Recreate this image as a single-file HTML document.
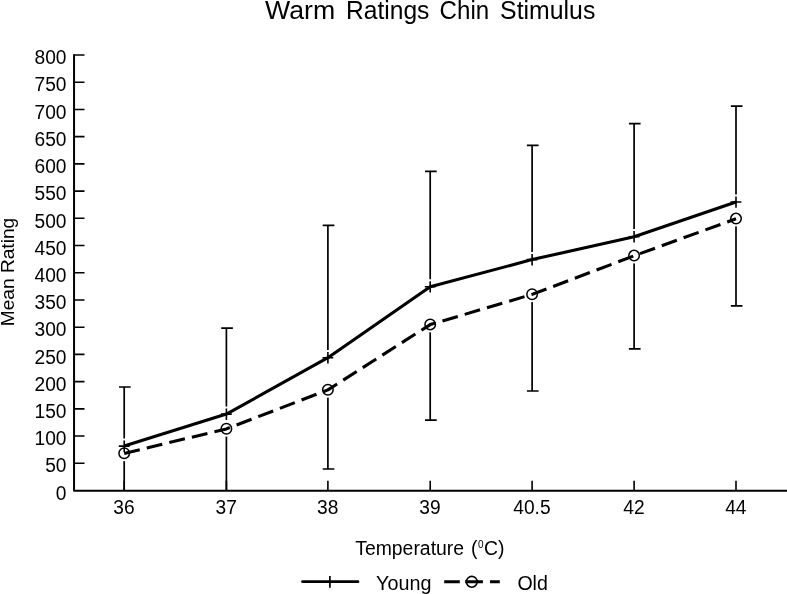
<!DOCTYPE html>
<html><head><meta charset="utf-8"><title>Warm Ratings Chin Stimulus</title>
<style>html,body{margin:0;padding:0;background:#fff;}svg{display:block;will-change:transform;}text{font-family:"Liberation Sans",sans-serif;fill:#000;}</style></head><body>
<svg width="787" height="594" viewBox="0 0 787 594">
<rect x="0" y="0" width="787" height="594" fill="#fff"/>
<text transform="translate(265.0 18.7) scale(1.0187 1)" font-size="26.2">Warm</text>
<text transform="translate(346.0 18.7) scale(0.9389 1)" font-size="26.2">Ratings</text>
<text transform="translate(439.6 18.7) scale(0.9202 1)" font-size="26.2">Chin</text>
<text transform="translate(500.1 18.7) scale(0.9483 1)" font-size="26.2">Stimulus</text>
<g stroke="#000" fill="none">
<path d="M74.05 54.2V490.7H787" stroke-width="2" stroke-linejoin="round"/>
<path d="M74.0 463.28H84.5M74.0 436.06H84.5M74.0 408.84H84.5M74.0 381.62H84.5M74.0 354.41H84.5M74.0 327.19H84.5M74.0 299.97H84.5M74.0 272.75H84.5M74.0 245.53H84.5M74.0 218.31H84.5M74.0 191.09H84.5M74.0 163.87H84.5M74.0 136.66H84.5M74.0 109.44H84.5M74.0 82.22H84.5M74.0 55.00H84.5M124.2 490.5V480.8M226.4 490.5V480.8M327.9 490.5V480.8M430.2 490.5V480.8M532.1 490.5V480.8M634.1 490.5V480.8M736.0 490.5V480.8" stroke-width="1.6"/>
</g>
<text transform="translate(66.5 499.7) scale(0.94 1)" font-size="20.4" text-anchor="end">0</text>
<text transform="translate(66.5 472.48) scale(0.94 1)" font-size="20.4" text-anchor="end">50</text>
<text transform="translate(66.5 445.26) scale(0.94 1)" font-size="20.4" text-anchor="end">100</text>
<text transform="translate(66.5 418.04) scale(0.94 1)" font-size="20.4" text-anchor="end">150</text>
<text transform="translate(66.5 390.82) scale(0.94 1)" font-size="20.4" text-anchor="end">200</text>
<text transform="translate(66.5 363.61) scale(0.94 1)" font-size="20.4" text-anchor="end">250</text>
<text transform="translate(66.5 336.39) scale(0.94 1)" font-size="20.4" text-anchor="end">300</text>
<text transform="translate(66.5 309.17) scale(0.94 1)" font-size="20.4" text-anchor="end">350</text>
<text transform="translate(66.5 281.95) scale(0.94 1)" font-size="20.4" text-anchor="end">400</text>
<text transform="translate(66.5 254.73) scale(0.94 1)" font-size="20.4" text-anchor="end">450</text>
<text transform="translate(66.5 227.51) scale(0.94 1)" font-size="20.4" text-anchor="end">500</text>
<text transform="translate(66.5 200.29) scale(0.94 1)" font-size="20.4" text-anchor="end">550</text>
<text transform="translate(66.5 173.07) scale(0.94 1)" font-size="20.4" text-anchor="end">600</text>
<text transform="translate(66.5 145.86) scale(0.94 1)" font-size="20.4" text-anchor="end">650</text>
<text transform="translate(66.5 118.64) scale(0.94 1)" font-size="20.4" text-anchor="end">700</text>
<text transform="translate(66.5 91.42) scale(0.94 1)" font-size="20.4" text-anchor="end">750</text>
<text transform="translate(66.5 64.2) scale(0.94 1)" font-size="20.4" text-anchor="end">800</text>
<text transform="translate(124.0 514.0) scale(0.94 1)" font-size="20.4" text-anchor="middle">36</text>
<text transform="translate(226.2 514.0) scale(0.94 1)" font-size="20.4" text-anchor="middle">37</text>
<text transform="translate(327.7 514.0) scale(0.94 1)" font-size="20.4" text-anchor="middle">38</text>
<text transform="translate(430.0 514.0) scale(0.94 1)" font-size="20.4" text-anchor="middle">39</text>
<text transform="translate(531.9 514.0) scale(0.94 1)" font-size="20.4" text-anchor="middle">40.5</text>
<text transform="translate(633.9 514.0) scale(0.94 1)" font-size="20.4" text-anchor="middle">42</text>
<text transform="translate(735.8 514.0) scale(0.94 1)" font-size="20.4" text-anchor="middle">44</text>
<text transform="translate(355.2 555.0) scale(1.0 1)" font-size="19.4">Temperature</text>
<text transform="translate(471.0 555.0) scale(1.0 1)" font-size="19.4">(<tspan font-size="10" dy="-6.6" dx="0.6">0</tspan><tspan dy="6.6" dx="0.4">C)</tspan></text>
<text transform="translate(13.6 326.2) rotate(-90) scale(1.05 1)" font-size="18.2">Mean Rating</text>
<path d="M119.0 387.0H130.7M124.2 387.0V446.1M124.2 453.2V490.5M221.20000000000002 328.2H232.9M226.4 328.2V414.1M226.4 428.7V490.5M322.7 225.4H334.4M327.9 225.4V357.7M327.9 389.7V469.0M322.7 469.0H334.4M425.0 171.3H436.7M430.2 171.3V286.8M430.2 324.4V420.1M425.0 420.1H436.7M526.9 145.4H538.6M532.1 145.4V259.6M532.1 294.2V391.0M526.9 391.0H538.6M628.9 123.7H640.6M634.1 123.7V236.7M634.1 255.6V348.8M628.9 348.8H640.6M730.8 106.2H742.5M736.0 106.2V202.0M736.0 218.6V305.8M730.8 305.8H742.5" stroke="#000" stroke-width="1.7" fill="none"/>
<path d="M124.2 438.5V453.70000000000005M226.4 406.5V421.70000000000005M327.9 350.09999999999997V365.3M430.2 279.2V294.40000000000003M532.1 252.00000000000003V267.20000000000005M634.1 229.1V244.29999999999998M736.0 194.4V209.6" stroke="#fff" stroke-width="3" fill="none"/>
<circle cx="124.2" cy="453.2" r="6.4" fill="#fff" stroke="#fff" stroke-width="3.2"/>
<circle cx="226.4" cy="428.7" r="6.4" fill="#fff" stroke="#fff" stroke-width="3.2"/>
<circle cx="327.9" cy="389.7" r="6.4" fill="#fff" stroke="#fff" stroke-width="3.2"/>
<circle cx="430.2" cy="324.4" r="6.4" fill="#fff" stroke="#fff" stroke-width="3.2"/>
<circle cx="532.1" cy="294.2" r="6.4" fill="#fff" stroke="#fff" stroke-width="3.2"/>
<circle cx="634.1" cy="255.6" r="6.4" fill="#fff" stroke="#fff" stroke-width="3.2"/>
<circle cx="736.0" cy="218.6" r="6.4" fill="#fff" stroke="#fff" stroke-width="3.2"/>
<path d="M118.8 446.1H129.6M124.2 440.5V451.90000000000003M221.0 414.1H231.8M226.4 408.5V419.90000000000003M322.5 357.7H333.29999999999995M327.9 352.09999999999997V363.5M424.8 286.8H435.59999999999997M430.2 281.2V292.6M526.7 259.6H537.5M532.1 254.00000000000003V265.40000000000003M628.7 236.7H639.5M634.1 231.1V242.5M730.6 202.0H741.4M736.0 196.4V207.8" stroke="#000" stroke-width="1.6" fill="none"/>
<circle cx="124.2" cy="453.2" r="5.25" fill="none" stroke="#000" stroke-width="1.5"/>
<circle cx="226.4" cy="428.7" r="5.25" fill="none" stroke="#000" stroke-width="1.5"/>
<circle cx="327.9" cy="389.7" r="5.25" fill="none" stroke="#000" stroke-width="1.5"/>
<circle cx="430.2" cy="324.4" r="5.25" fill="none" stroke="#000" stroke-width="1.5"/>
<circle cx="532.1" cy="294.2" r="5.25" fill="none" stroke="#000" stroke-width="1.5"/>
<circle cx="634.1" cy="255.6" r="5.25" fill="none" stroke="#000" stroke-width="1.5"/>
<circle cx="736.0" cy="218.6" r="5.25" fill="none" stroke="#000" stroke-width="1.5"/>
<polyline points="124.2,446.1 226.4,414.1 327.9,357.7 430.2,286.8 532.1,259.6 634.1,236.7 736.0,202.0" fill="none" stroke="#000" stroke-width="3.1" stroke-linejoin="round"/>
<polyline points="124.2,453.4 226.4,428.9 327.9,389.9 430.2,324.59999999999997 532.1,294.4 634.1,255.79999999999998 736.0,218.79999999999998" fill="none" stroke="#000" stroke-width="3.1" stroke-dasharray="16.0 7.2" stroke-linejoin="round"/>
<g stroke="#000" fill="none">
<path d="M329.9 576V587.8" stroke-width="1.7"/>
<path d="M302.6 581.65H357.9" stroke-width="2.9" stroke-linecap="round"/>
<circle cx="471.8" cy="581.8" r="5.4" stroke-width="1.6"/>
<path d="M444.2 581.65H459.8M465.2 581.65H482.9M490 581.65H499.8" stroke-width="3"/>
</g>
<text transform="translate(376.0 589.8) scale(0.98 1)" font-size="20.2">Young</text>
<text transform="translate(517.4 589.9) scale(0.97 1)" font-size="20.2">Old</text>
</svg></body></html>
